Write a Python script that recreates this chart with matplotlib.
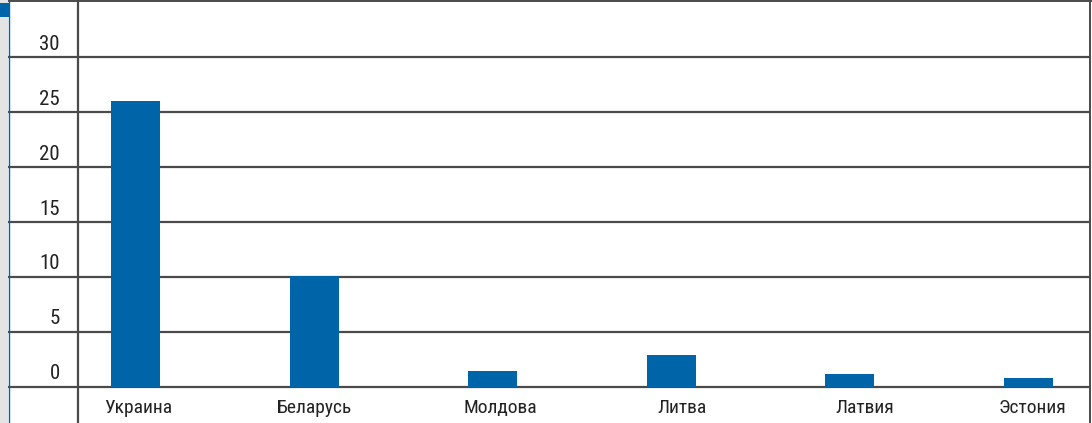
import matplotlib
matplotlib.use("Agg")
import matplotlib.pyplot as plt
from matplotlib.patches import Rectangle
from matplotlib import font_manager as fm

# data
countries = ["Украина", "Беларусь", "Молдова", "Литва", "Латвия", "Эстония"]
values = [26.0, 10.1, 1.4, 2.9, 1.1, 0.75]
yticks = [0, 5, 10, 15, 20, 25, 30]

# pick a narrow face if one is installed
names = {f.name for f in fm.fontManager.ttflist}
font, stretch = "DejaVu Sans", "condensed"
for cand in ["Roboto Condensed", "Liberation Sans Narrow", "Open Sans Condensed"]:
    if cand in names:
        font, stretch = cand, "normal"
        break
plt.rcParams["font.family"] = [font, "DejaVu Sans"]
plt.rcParams["font.stretch"] = stretch

W, H = 1092, 423
blue = "#0065a8"
grid_c = "#4a4a4a"
text_c = "#222222"

fig = plt.figure(figsize=(W / 100, H / 100), dpi=100)
ax = fig.add_axes([0, 0, 1, 1])

# pixel mapping: category i centre at 135.5 + 178.6*i, value 0 at y=386.5, 10.98 px per unit
x0, dx = 135.5, 178.6
y0, dy = 386.5, 10.98
ax.set_xlim((0 - x0) / dx, (W - x0) / dx)
ax.set_ylim((y0 - H) / dy, y0 / dy)
ax.axis("off")

xs = list(range(len(countries)))
ax.bar(xs, values, width=49 / dx, color=blue, zorder=3)

trans = ax.get_yaxis_transform()  # x in axes fraction, y in data
for t in yticks:
    ax.plot([8 / W, 1090 / W], [t, t], transform=trans, color=grid_c, lw=1.6, zorder=2,
            solid_capstyle="butt")
    ax.text(60 / W, t + 0.3, str(t), transform=trans, ha="right", va="bottom",
            fontsize=15, color=text_c, fontstretch=stretch)

# labels sit a little right of the bars in the original (px)
label_shift = [3, 0, 8, 11, 15, 4]
for x, name, s in zip(xs, countries, label_shift):
    ax.text(x + s / dx, -1.95, name, ha="center", va="center", fontsize=14, color=text_c,
            fontstretch=stretch)

# frame / decorations
fig.add_artist(Rectangle((0, 0), 8 / W, 1, transform=fig.transFigure, color="#e4e4e4", lw=0))
fig.add_artist(Rectangle((0, 1 - 17 / H), 9 / W, 14 / H, transform=fig.transFigure,
                         color=blue, lw=0))
fig.add_artist(plt.Line2D([8.7 / W, 8.7 / W], [0, 1], transform=fig.transFigure,
                          color=blue, lw=1.0))
fig.add_artist(plt.Line2D([78 / W, 78 / W], [0, 1], transform=fig.transFigure,
                          color=grid_c, lw=1.6))
fig.add_artist(plt.Line2D([1090 / W, 1090 / W], [0, 1], transform=fig.transFigure,
                          color=grid_c, lw=1.4))
fig.add_artist(plt.Line2D([9 / W, 1], [1 - 1.5 / H, 1 - 1.5 / H], transform=fig.transFigure,
                          color=grid_c, lw=1.4))

fig.savefig("out.png", dpi=100)
